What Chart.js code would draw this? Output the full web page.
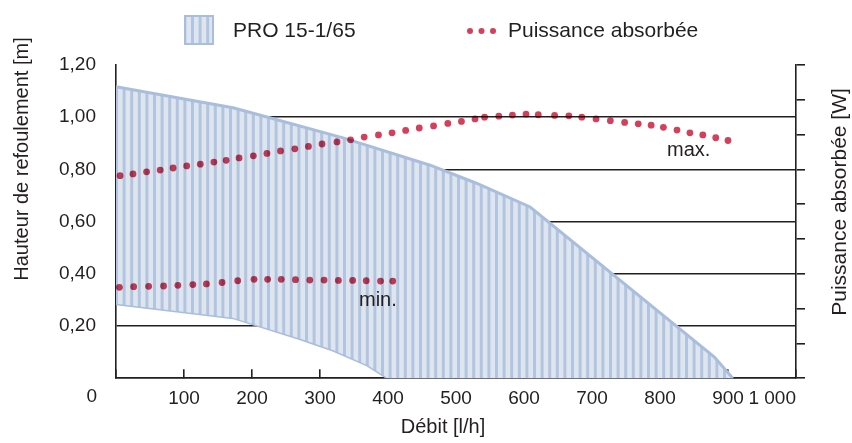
<!DOCTYPE html>
<html>
<head>
<meta charset="utf-8">
<script src="https://cdn.jsdelivr.net/npm/chart.js@4.4.0/dist/chart.umd.min.js"></script>
<style>
html, body { margin: 0; padding: 0; background: #fff; }
</style>
</head>
<body>
<canvas id="myChart" width="852" height="443"></canvas>
<script>
// champ de fonctionnement PRO 15-1/65 (débit l/h -> hauteur m)
var areaTopX = [0, 172, 226, 334, 462, 530, 609, 880, 907];
var areaTopY = [1.117, 1.036, 0.998, 0.921, 0.816, 0.747, 0.656, 0.081, 0];
var areaBotX = [0, 172, 270, 320, 370, 400, 907];
var areaBotY = [0.285, 0.232, 0.152, 0.107, 0.05, 0, 0];

// puissance absorbée, courbe max (W)
var maxX = [6, 25, 45, 65, 84, 104, 124, 144, 162, 181, 202, 222, 242, 263, 283, 303, 325, 345, 365, 386,
    406, 426, 446, 467, 488, 508, 528, 542, 563, 583, 603, 621, 645, 666, 685, 706, 727, 748, 768, 787,
    805, 825, 844, 863, 882, 900];
var maxP = [5.82, 5.87, 5.93, 5.98, 6.04, 6.10, 6.15, 6.21, 6.26, 6.33, 6.39, 6.46, 6.53, 6.59, 6.66, 6.73, 6.79, 6.85, 6.93, 6.99,
    7.05, 7.12, 7.19, 7.25, 7.32, 7.38, 7.45, 7.50, 7.53, 7.56, 7.59, 7.57, 7.55, 7.54, 7.50, 7.45, 7.40, 7.35, 7.31, 7.27,
    7.21, 7.13, 7.05, 6.99, 6.91, 6.83];

// puissance absorbée, courbe min (W)
var minX = [5, 26, 48, 70, 91, 113, 133, 156, 179, 203, 223, 243, 264, 285, 306, 327, 348, 368, 389, 407];
var minP = [2.61, 2.63, 2.64, 2.65, 2.67, 2.69, 2.71, 2.75, 2.80, 2.84, 2.84, 2.84, 2.83, 2.82, 2.82, 2.81, 2.81, 2.80, 2.79, 2.79];

var debitMax = 1000;
var hauteurMax = 1.2;
var puissanceMax = 9;

var ink = '#231f20';
var dotColor = '#d4405b';
var areaLine = '#a9bedd';
var fontFamily = '"Liberation Sans", Arial, sans-serif';

function toPoints(xs, ys) {
    var pts = [];
    for (var i = 0; i < xs.length; i++) {
        pts.push({ x: xs[i], y: ys[i] });
    }
    return pts;
}

// vertical hatching used for the area and the legend swatch
function makeStripes() {
    var c = document.createElement('canvas');
    c.width = 38;
    c.height = 4;
    var g = c.getContext('2d');
    g.fillStyle = '#dfe5ee';
    g.fillRect(0, 0, 38, 4);
    g.fillStyle = '#b1c5e0';
    for (var i = 0; i < 5; i++) {
        g.fillRect(i * 7.6 + 1, 0, 3, 4);
    }
    return g.createPattern(c, 'repeat');
}

var stripes = makeStripes();

// dots are printed over the area, so darken them there (multiply)
var dotBlend = {
    id: 'dotBlend',
    beforeDatasetDraw: function (chart, args) {
        if (args.index < 2) {
            chart.ctx.save();
            chart.ctx.globalCompositeOperation = 'multiply';
        }
    },
    afterDatasetDraw: function (chart, args) {
        if (args.index < 2) chart.ctx.restore();
    }
};

// legend, axis titles, annotations
var decor = {
    id: 'decor',
    afterDraw: function (chart) {
        var ctx = chart.ctx;
        var xs = chart.scales.x;
        ctx.save();
        ctx.fillStyle = ink;
        ctx.textBaseline = 'middle';

        // legend
        ctx.fillStyle = stripes;
        ctx.fillRect(184, 15, 30, 30);
        ctx.strokeStyle = areaLine;
        ctx.lineWidth = 2;
        ctx.strokeRect(185, 16, 28, 28);
        ctx.fillStyle = dotColor;
        [470, 481.5, 493].forEach(function (cx) {
            ctx.beginPath();
            ctx.arc(cx, 31, 3, 0, Math.PI * 2);
            ctx.fill();
        });
        ctx.fillStyle = ink;
        ctx.font = '21px ' + fontFamily;
        ctx.textAlign = 'left';
        ctx.fillText('PRO 15-1/65', 233, 31);
        ctx.fillText('Puissance absorbée', 508, 31);

        // annotations
        ctx.font = '20px ' + fontFamily;
        ctx.fillText('max.', 667, 150);
        ctx.fillText('min.', 359, 300);

        // origin label
        ctx.font = '19px ' + fontFamily;
        ctx.textAlign = 'right';
        ctx.fillText('0', xs.getPixelForValue(0) - 19, 397);

        // x title
        ctx.textAlign = 'center';
        ctx.font = '20px ' + fontFamily;
        ctx.fillText('Débit [l/h]', 443, 427);

        // vertical titles
        ctx.save();
        ctx.translate(22, 159);
        ctx.rotate(-Math.PI / 2);
        ctx.fillText('Hauteur de refoulement [m]', 0, 0);
        ctx.restore();
        ctx.font = '21px ' + fontFamily;
        ctx.save();
        ctx.translate(840, 202);
        ctx.rotate(-Math.PI / 2);
        ctx.fillText('Puissance absorbée [W]', 0, 0);
        ctx.restore();

        ctx.restore();
    }
};

var ctx = document.getElementById('myChart').getContext('2d');
var myChart = new Chart(ctx, {
    type: 'line',
    data: {
        datasets: [
            {
                label: 'Puissance absorbée max.',
                data: toPoints(maxX, maxP),
                yAxisID: 'y2',
                showLine: false,
                pointRadius: 3.4,
                pointBorderWidth: 0,
                pointBackgroundColor: dotColor,
                borderColor: dotColor
            },
            {
                label: 'Puissance absorbée min.',
                data: toPoints(minX, minP),
                yAxisID: 'y2',
                showLine: false,
                pointRadius: 3.4,
                pointBorderWidth: 0,
                pointBackgroundColor: dotColor,
                borderColor: dotColor
            },
            {
                label: 'PRO 15-1/65',
                data: toPoints(areaTopX, areaTopY),
                yAxisID: 'y',
                borderColor: areaLine,
                borderWidth: 3,
                backgroundColor: stripes,
                pointRadius: 0,
                tension: 0,
                fill: '+1'
            },
            {
                label: 'PRO 15-1/65 bas',
                data: toPoints(areaBotX, areaBotY),
                yAxisID: 'y',
                borderColor: areaLine,
                borderWidth: 3,
                pointRadius: 0,
                tension: 0,
                fill: false
            }
        ]
    },
    options: {
        responsive: false,
        animation: false,
        layout: { padding: { left: 39, right: 47, top: 65, bottom: 15 } },
        plugins: {
            legend: { display: false },
            tooltip: { enabled: false }
        },
        scales: {
            x: {
                type: 'linear',
                min: 0,
                max: debitMax,
                ticks: {
                    stepSize: 100,
                    padding: 18,
                    align: 'inner',
                    color: ink,
                    font: { family: fontFamily, size: 19 },
                    callback: function (v) {
                        if (v === 0) return '';
                        if (v === 1000) return '1 000';
                        return String(v);
                    }
                },
                grid: { drawOnChartArea: false, tickLength: -9, color: ink, lineWidth: 1.6 },
                border: { color: ink, width: 1.6 }
            },
            y: {
                position: 'left',
                min: 0,
                max: hauteurMax,
                ticks: {
                    stepSize: 0.2,
                    padding: 20,
                    color: ink,
                    font: { family: fontFamily, size: 19 },
                    callback: function (v) {
                        if (v === 0) return '';
                        return v.toFixed(2).replace('.', ',');
                    }
                },
                grid: {
                    drawTicks: false,
                    lineWidth: 1.6,
                    color: function (c) {
                        if (c.tick && Math.abs(c.tick.value - hauteurMax) < 1e-6) return 'rgba(0,0,0,0)';
                        return ink;
                    }
                },
                border: { color: ink, width: 1.6 }
            },
            y2: {
                position: 'right',
                min: 0,
                max: puissanceMax,
                ticks: { stepSize: 1, display: false },
                grid: { drawOnChartArea: false, drawTicks: true, tickLength: 9, color: ink, lineWidth: 1.6 },
                border: { color: ink, width: 1.6 }
            }
        }
    },
    plugins: [dotBlend, decor]
});
</script>
</body>
</html>
